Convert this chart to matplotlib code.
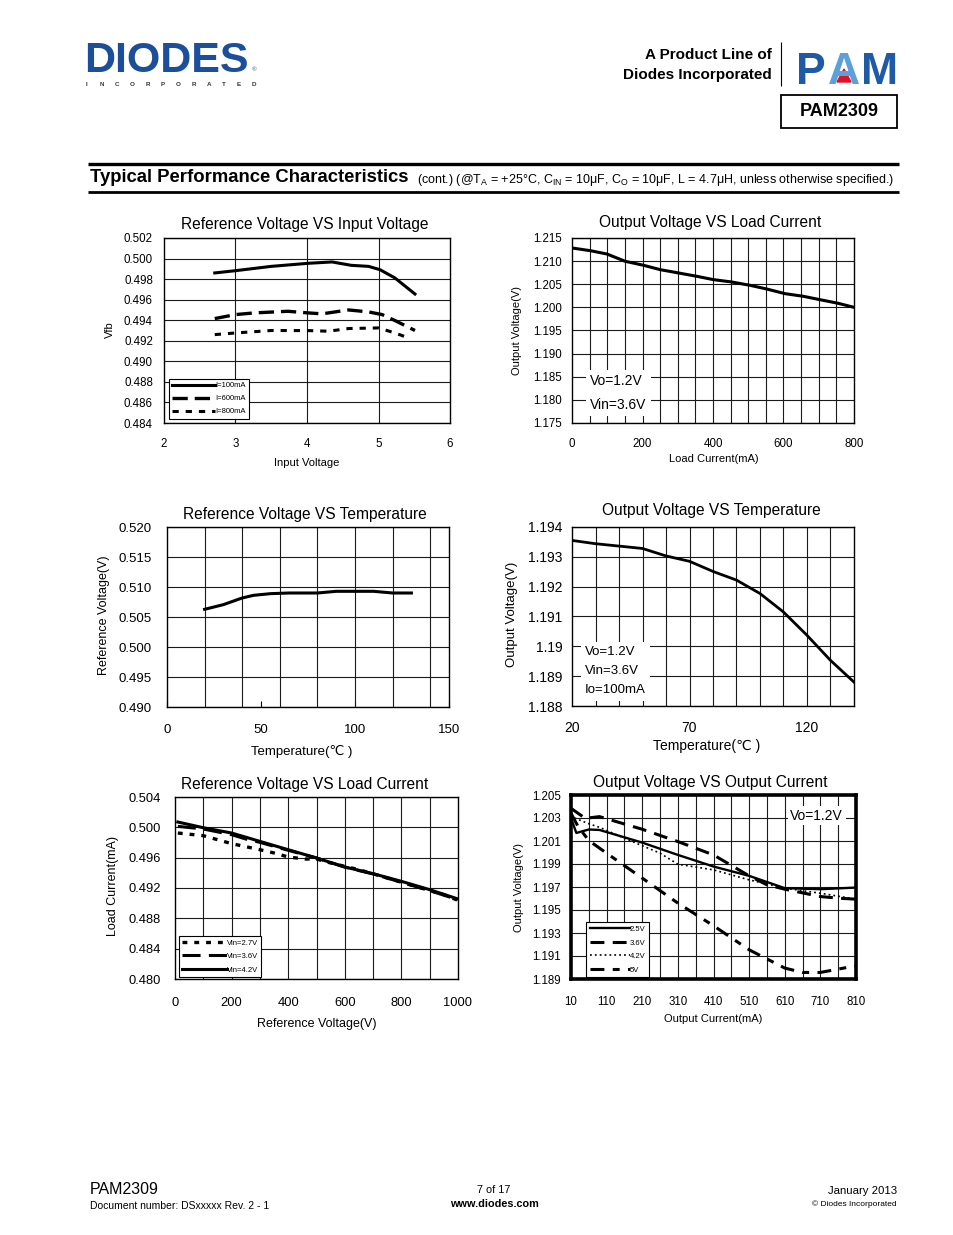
import numpy as np
import matplotlib
matplotlib.use('Agg')
import matplotlib.pyplot as plt
from matplotlib.lines import Line2D
from matplotlib.patches import Rectangle, Polygon

# page size in pixels
W, H = 954, 1235
SANS = ['Liberation Sans', 'DejaVu Sans']
plt.rcParams['font.family'] = SANS
plt.rcParams['lines.scale_dashes'] = False
plt.rcParams['mathtext.fontset'] = 'custom'
plt.rcParams['mathtext.rm'] = 'Liberation Sans'
plt.rcParams['axes.unicode_minus'] = False

# ---- data: Reference Voltage VS Input Voltage
vin_x_100 = [2.71, 3.0, 3.5, 4.02, 4.35, 4.62, 4.86, 5.02, 5.23, 5.51]
vfb_100 = [0.4986, 0.49882, 0.49924, 0.49954, 0.49967, 0.49934, 0.49924, 0.49892, 0.49811, 0.49655]
vin_x_600 = [2.71, 3.0, 3.26, 3.73, 4.02, 4.21, 4.58, 4.86, 5.05, 5.23, 5.51]
vfb_600 = [0.49416, 0.49455, 0.49471, 0.49487, 0.49471, 0.49462, 0.495, 0.49481, 0.49455, 0.49397, 0.493]
vin_x_800 = [2.71, 3.0, 3.5, 4.02, 4.3, 4.58, 5.0, 5.23, 5.42]
vfb_800 = [0.4926, 0.49276, 0.493, 0.49299, 0.49293, 0.49319, 0.49325, 0.49276, 0.49228]

# ---- data: Output Voltage VS Load Current
load_i = [0, 52, 99, 151, 203, 250, 302, 354, 401, 453, 505, 552, 604, 656, 703, 755, 800]
vout_load = [1.21284, 1.21226, 1.21154, 1.20996, 1.2091, 1.20816, 1.20744, 1.20672, 1.206,
             1.20549, 1.20477, 1.20398, 1.20297, 1.2024, 1.20167, 1.20088, 1.20001]

# ---- data: Reference Voltage VS Temperature
temp_ref = [20, 30, 40, 46, 55, 65, 80, 90, 110, 120, 130]
vref_temp = [0.50628, 0.50706, 0.50817, 0.50861, 0.50889, 0.509, 0.509, 0.50928, 0.50928, 0.509, 0.509]

# ---- data: Output Voltage VS Temperature
temp_out = [20, 30, 40, 50, 60, 70, 80, 90, 100, 110, 120, 130, 140]
vout_temp = [1.19355, 1.19344, 1.19336, 1.19328, 1.19303, 1.19285, 1.19251, 1.19222, 1.19177,
             1.19115, 1.19037, 1.18953, 1.1888]

# ---- data: Reference Voltage VS Load Current
rl_i_27 = [10, 100, 200, 300, 350, 400, 460, 500, 550, 650, 750, 850, 950, 1000]
rl_v_27 = [0.49925, 0.4989, 0.49785, 0.49705, 0.49662, 0.49609, 0.49582, 0.49582, 0.4953,
           0.49442, 0.49332, 0.49222, 0.49112, 0.49037]
rl_i_36 = [10, 100, 200, 250, 300, 400, 500, 600, 700, 800, 900, 1000]
rl_v_36 = [0.50013, 0.49978, 0.49903, 0.49846, 0.49802, 0.49697, 0.49596, 0.49475, 0.49385,
           0.49275, 0.49165, 0.49045]
rl_i_42 = [10, 100, 200, 300, 400, 500, 600, 700, 800, 900, 1000]
rl_v_42 = [0.5007, 0.49995, 0.49925, 0.49815, 0.49705, 0.49596, 0.49477, 0.49389, 0.49288,
           0.49178, 0.49055]

# ---- data: Output Voltage VS Output Current
oc_i_25 = [10, 25, 60, 90, 210, 310, 410, 510, 610, 710, 810]
oc_v_25 = [1.2030, 1.2017, 1.2020, 1.20196, 1.20086, 1.19979, 1.19878, 1.19797, 1.1969, 1.19681, 1.19695]
oc_i_36 = [10, 50, 90, 210, 310, 410, 510, 560, 610, 710, 760, 810]
oc_v_36 = [1.20384, 1.20297, 1.20312, 1.20202, 1.20095, 1.19979, 1.19797, 1.19719, 1.19681,
           1.19617, 1.19603, 1.19594]
oc_i_42 = [20, 60, 90, 160, 260, 310, 410, 510, 610, 710, 810]
oc_v_42 = [1.2030, 1.2025, 1.20219, 1.20124, 1.19994, 1.19898, 1.19849, 1.19762, 1.1969, 1.19646, 1.19594]
oc_i_5 = [10, 30, 60, 110, 210, 310, 410, 510, 610, 660, 710, 810]
oc_v_5 = [1.20341, 1.20225, 1.20104, 1.19994, 1.19777, 1.1956, 1.19363, 1.19154, 1.18995,
          1.18957, 1.18957, 1.19015]

fig = plt.figure(figsize=(W / 100, H / 100), dpi=100)


def axes_px(x0, y0, x1, y1):
    return fig.add_axes([x0 / W, 1 - y1 / H, (x1 - x0) / W, (y1 - y0) / H])


def text_px(x, y, s, **kw):
    kw.setdefault('va', 'center')
    return fig.text(x / W, 1 - y / H, s, **kw)


def line_px(xs, ys, lw, color='black'):
    fig.add_artist(Line2D([x / W for x in xs], [1 - y / H for y in ys], lw=lw, color=color,
                          solid_capstyle='butt'))


def setup(ax, xlim, ylim, xticks, yticks, xgrid, ygrid, fs, xpad, ypad, xlabels=None, ylabels=None):
    ax.set_xlim(xlim)
    ax.set_ylim(ylim)
    ax.set_xticks(xticks)
    ax.set_yticks(yticks)
    ax.set_xticklabels(xlabels if xlabels else [str(v) for v in xticks])
    ax.set_yticklabels(ylabels if ylabels else [f'{v:.3f}' for v in yticks])
    ax.xaxis.remove_overlapping_locs = False
    ax.yaxis.remove_overlapping_locs = False
    ax.set_xticks(xgrid, minor=True)
    ax.set_yticks(ygrid, minor=True)
    ax.grid(True, which='minor', color='#1a1a1a', lw=0.8)
    ax.tick_params(which='both', length=0, labelsize=fs)
    ax.tick_params(axis='x', pad=xpad)
    ax.tick_params(axis='y', pad=ypad)
    ax.set_axisbelow(True)
    for s in ax.spines.values():
        s.set_linewidth(1.0)


def legend(ax, x0, y0, fs, hl, sp):
    lg = ax.legend(loc='lower left', bbox_to_anchor=(x0, y0), borderaxespad=0, fancybox=False,
                   framealpha=1, edgecolor='black', prop={'size': fs},
                   handlelength=hl, handletextpad=0.0, labelspacing=sp, borderpad=0.45)
    lg.get_frame().set_linewidth(0.8)


# ---------------- header ----------------
DIODES_BLUE = '#1b4f9c'
text_px(84, 71.5, 'DIODES', weight='bold', size=31, color=DIODES_BLUE, ha='left', va='baseline')
line_px([96, 170], [57, 57], 1.2, 'white')
for i, ch in enumerate('INCORPORATED'):
    text_px(87 + i * 15.2, 84, ch, weight='bold', size=4.5, color='#333333', ha='center')
text_px(252, 70, '®', size=4.5, color=DIODES_BLUE, ha='left')

text_px(772, 55, 'A Product Line of', weight='bold', size=11, ha='right')
text_px(772, 75, 'Diodes Incorporated', weight='bold', size=11, ha='right')
line_px([781, 781], [42, 86], 0.8)
PAM_BLUE = '#1f5aa6'
text_px(796, 84, 'P', weight='bold', size=32, color=PAM_BLUE, ha='left', va='baseline')
text_px(844, 84, 'A', weight='bold', size=32, color='#5b9fdc', ha='center', va='baseline')
text_px(898, 84, 'M', weight='bold', size=32, color=PAM_BLUE, ha='right', va='baseline')
fig.add_artist(Polygon([(837 / W, 1 - 82 / H), (851 / W, 1 - 82 / H), (844 / W, 1 - 69 / H)],
                       closed=True, transform=fig.transFigure, color='#e0102a'))
fig.add_artist(Rectangle((781 / W, 1 - 128 / H), 116 / W, 33 / H, transform=fig.transFigure,
                         fill=False, ec='black', lw=1.3))
text_px(839, 112, 'PAM2309', weight='bold', size=13, ha='center')

line_px([88, 899], [164, 164], 2.4)
line_px([88, 899], [192, 192], 2.0)
text_px(90, 178, 'Typical Performance Characteristics', weight='bold', size=13.3, ha='left')
text_px(417, 180, r'(cont.) (@T$_{\mathrm{A}}$ = +25°C, C$_{\mathrm{IN}}$ = 10μF, C$_{\mathrm{O}}$ = 10μF, '
        r'L = 4.7μH, unless otherwise specified.)', size=9, ha='left')

TITLE = 11.2

# ---------------- chart 1 ----------------
ax1 = axes_px(164, 238, 450, 423)
y1_ticks = [0.484, 0.486, 0.488, 0.490, 0.492, 0.494, 0.496, 0.498, 0.500, 0.502]
setup(ax1, (2, 6), (0.484, 0.502), [2, 3, 4, 5, 6], y1_ticks, [3, 4, 5], y1_ticks, 8.3, 11, 8)
ax1.plot(vin_x_100, vfb_100, color='black', lw=2.2, label='I=100mA')
ax1.plot(vin_x_600, vfb_600, color='black', lw=2.4, dashes=(11, 5), label='I=600mA')
ax1.plot(vin_x_800, vfb_800, color='black', lw=2.2, dashes=(4.5, 5), label='I=800mA')
legend(ax1, 0.017, 0.022, 5.5, 5.6, 0.75)
text_px(305, 224, 'Reference Voltage VS Input Voltage', size=TITLE, ha='center')
text_px(307, 463, 'Input Voltage', size=8, ha='center')
text_px(110, 330, 'Vfb', size=8, ha='center', rotation=90)

# ---------------- chart 2 ----------------
ax2 = axes_px(572, 238, 854, 423)
y2_ticks = [1.175, 1.180, 1.185, 1.190, 1.195, 1.200, 1.205, 1.210, 1.215]
setup(ax2, (0, 800), (1.175, 1.215), [0, 200, 400, 600, 800], y2_ticks,
      list(range(50, 800, 50)), y2_ticks, 8.3, 11, 7)
ax2.plot(load_i, vout_load, color='black', lw=2.2)
ax2.text(52, 1.1815, 'Vo=1.2V\nVin=3.6V', size=10, va='center', ha='left', linespacing=1.9,
         bbox=dict(fc='white', ec='none', pad=3))
text_px(710, 223, 'Output Voltage VS Load Current', size=TITLE, ha='center')
text_px(714, 459, 'Load Current(mA)', size=8, ha='center')
text_px(517, 330, 'Output Voltage(V)', size=8, ha='center', rotation=90)

# ---------------- chart 3 ----------------
ax3 = axes_px(167, 527, 449, 707)
y3_ticks = [0.490, 0.495, 0.500, 0.505, 0.510, 0.515, 0.520]
setup(ax3, (0, 150), (0.490, 0.520), [0, 50, 100, 150], y3_ticks,
      list(range(20, 150, 20)), y3_ticks, 9.5, 12, 11)
ax3.tick_params(axis='x', which='major', direction='in', length=4)
ax3.plot(temp_ref, vref_temp, color='black', lw=2.2)
text_px(305, 514, 'Reference Voltage VS Temperature', size=TITLE, ha='center')
text_px(302, 752, 'Temperature(℃ )', size=9.5, ha='center')
text_px(104, 615, 'Reference Voltage(V)', size=9, ha='center', rotation=90)

# ---------------- chart 4 ----------------
ax4 = axes_px(572, 527, 854, 706)
y4_ticks = [1.188, 1.189, 1.19, 1.191, 1.192, 1.193, 1.194]
y4_labels = ['1.188', '1.189', '1.19', '1.191', '1.192', '1.193', '1.194']
setup(ax4, (20, 140), (1.188, 1.194), [20, 70, 120], y4_ticks,
      list(range(30, 140, 10)), y4_ticks, 10, 11, 7, ylabels=y4_labels)
ax4.plot(temp_out, vout_temp, color='black', lw=2.0)
ax4.text(25.5, 1.18917, 'Vo=1.2V\nVin=3.6V\nIo=100mA', size=9.5, va='center', ha='left',
         linespacing=1.8, bbox=dict(fc='white', ec='none', pad=3))
text_px(711, 511, 'Output Voltage VS Temperature', size=TITLE, ha='center')
text_px(707, 746, 'Temperature(℃ )', size=10, ha='center')
text_px(512, 614, 'Output Voltage(V)', size=9.5, ha='center', rotation=90)

# ---------------- chart 5 ----------------
ax5 = axes_px(175, 797, 458, 979)
y5_ticks = [0.480, 0.484, 0.488, 0.492, 0.496, 0.500, 0.504]
setup(ax5, (0, 1000), (0.480, 0.504), [0, 200, 400, 600, 800, 1000], y5_ticks,
      list(range(100, 1000, 100)), y5_ticks, 9.3, 13, 10)
ax5.plot(rl_i_27, rl_v_27, color='black', lw=2.4, dashes=(3.5, 5), label='Vin=2.7V')
ax5.plot(rl_i_36, rl_v_36, color='black', lw=2.2, dashes=(13, 6), label='Vin=3.6V')
ax5.plot(rl_i_42, rl_v_42, color='black', lw=2.2, label='Vin=4.2V')
legend(ax5, 0.014, 0.011, 5.5, 5.8, 0.8)
text_px(305, 785, 'Reference Voltage VS Load Current', size=TITLE, ha='center')
text_px(317, 1024, 'Reference Voltage(V)', size=9, ha='center')
text_px(113, 886, 'Load Current(mA)', size=9, ha='center', rotation=90)

# ---------------- chart 6 ----------------
ax6 = axes_px(571, 795, 856, 979)
y6_ticks = [1.189, 1.191, 1.193, 1.195, 1.197, 1.199, 1.201, 1.203, 1.205]
setup(ax6, (10, 810), (1.189, 1.205), list(range(10, 811, 100)), y6_ticks,
      list(range(60, 810, 50)), y6_ticks, 8.3, 12, 7)
for s in ax6.spines.values():
    s.set_linewidth(2.6)
ax6.plot(oc_i_25, oc_v_25, color='black', lw=1.7, label='2.5V')
ax6.plot(oc_i_36, oc_v_36, color='black', lw=2.2, dashes=(10, 6), label='3.6V')
ax6.plot(oc_i_42, oc_v_42, color='black', lw=1.2, dashes=(1.3, 2.2), label='4.2V')
ax6.plot(oc_i_5, oc_v_5, color='black', lw=2.2, dashes=(10, 6, 5, 6), label='5V')
legend(ax6, 0.053, 0.011, 5.5, 5.3, 0.8)
ax6.text(700, 1.2032, 'Vo=1.2V', size=10, va='center', ha='center',
         bbox=dict(fc='white', ec='none', pad=2))
text_px(710, 783, 'Output Voltage VS Output Current', size=TITLE, ha='center')
text_px(713, 1019, 'Output Current(mA)', size=8, ha='center')
text_px(519, 887, 'Output Voltage(V)', size=8, ha='center', rotation=90)

# ---------------- footer ----------------
text_px(90, 1190, 'PAM2309', size=11.5, ha='left')
text_px(90, 1206, 'Document number: DSxxxxx Rev. 2 - 1', size=7.5, ha='left')
text_px(494, 1190, '7 of 17', size=7.8, ha='center')
text_px(494, 1204, 'www.diodes.com', size=7.8, weight='bold', ha='center')
text_px(897, 1191, 'January 2013', size=8.2, ha='right')
text_px(897, 1204, '© Diodes Incorporated', size=6, ha='right')

fig.savefig('out.png', dpi=100)
